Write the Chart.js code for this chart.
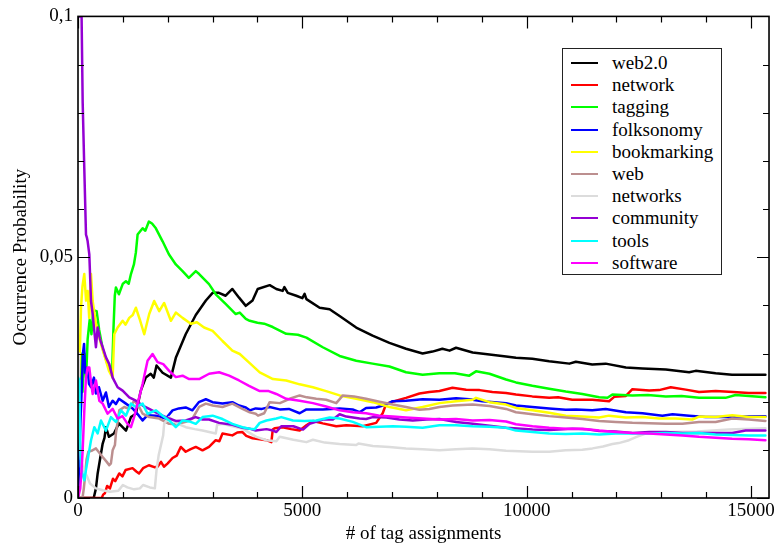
<!DOCTYPE html>
<html>
<head>
<meta charset="utf-8">
<script src="https://cdn.jsdelivr.net/npm/chart.js@4/dist/chart.umd.min.js"></script>
<style>
  html, body { margin: 0; padding: 0; background: #fff; }
  #wrap { position: relative; width: 777px; height: 547px; }
  #legend { position: absolute; left: 562px; top: 48px; width: 158px; height: 225px;
            border: 1px solid #222; background: #fff; box-sizing: content-box;
            font-family: "Liberation Serif", "DejaVu Serif", serif; font-size: 19px; color: #000; }
  .row { position: absolute; left: 0; height: 22px; display: flex; align-items: center; }
  .sample { display: inline-block; width: 27px; height: 2px; margin-left: 8px; }
  .lab { margin-left: 14px; line-height: 22px; white-space: nowrap; }
</style>
</head>
<body>
<div id="wrap">
  <canvas id="c" width="777" height="547"></canvas>
  <div id="legend"></div>
</div>
<script>
// ---- data (x = # of tag assignments, y = occurrence probability) ----
const seriesNames = ['web2.0','network','tagging','folksonomy','bookmarking','web','networks','community','tools','software'];

const web20Pts = [[0,0],[350,0],[400,0.002],[438,0.0051],[490,0.008],[550,0.0113],[590,0.0125],[623,0.0147],[690,0.0127],[800,0.0134],[912,0.0155],[1070,0.014],[1180,0.0168],[1290,0.0175],[1400,0.0223],[1510,0.025],[1620,0.0258],[1690,0.025],[1750,0.0275],[1885,0.026],[2070,0.025],[2180,0.0291],[2400,0.034],[2625,0.038],[2850,0.041],[3000,0.0426],[3140,0.0426],[3290,0.042],[3440,0.0434],[3590,0.0416],[3740,0.0399],[3890,0.041],[4005,0.0434],[4272,0.0442],[4420,0.0434],[4560,0.043],[4600,0.0438],[4675,0.0426],[4865,0.042],[5000,0.0415],[5050,0.0424],[5090,0.0413],[5385,0.0395],[5607,0.0392],[5830,0.0378],[6200,0.0354],[6565,0.0337],[6940,0.0322],[7310,0.031],[7680,0.030],[7900,0.0304],[8120,0.031],[8280,0.0306],[8425,0.0312],[8795,0.0302],[9170,0.0298],[9540,0.0294],[9760,0.0291],[10125,0.0289],[10500,0.0284],[10950,0.0279],[11095,0.0283],[11460,0.0277],[11760,0.0279],[12210,0.0271],[12580,0.0269],[13100,0.0267],[13620,0.0261],[13765,0.0264],[14210,0.0259],[14575,0.0256],[14950,0.0256],[15320,0.0256]];

const networkPts = [[0,0],[530,0],[560,0.0007],[600,0.001],[650,0.0025],[712,0.002],[780,0.004],[830,0.0035],[920,0.0051],[990,0.0045],[1060,0.0058],[1215,0.0062],[1300,0.0055],[1360,0.0051],[1450,0.0062],[1580,0.0068],[1700,0.0064],[1773,0.0065],[1850,0.0075],[1915,0.0065],[2000,0.0072],[2107,0.0083],[2200,0.0088],[2290,0.0106],[2400,0.0096],[2500,0.0101],[2625,0.0106],[2775,0.0099],[2920,0.0106],[3070,0.012],[3150,0.0118],[3220,0.0134],[3440,0.013],[3550,0.0136],[3665,0.0137],[3750,0.0129],[3890,0.0124],[4050,0.0122],[4200,0.012],[4310,0.0116],[4340,0.0142],[4383,0.0145],[4560,0.0147],[4750,0.0143],[4940,0.014],[5090,0.0151],[5235,0.016],[5455,0.0155],[5755,0.0149],[5980,0.0151],[6345,0.0149],[6645,0.0156],[6790,0.0176],[6870,0.0196],[7090,0.0202],[7310,0.0208],[7610,0.0217],[7830,0.022],[8055,0.0222],[8345,0.0229],[8650,0.0225],[8950,0.0224],[9235,0.022],[9540,0.0218],[9760,0.0215],[10125,0.0211],[10500,0.0208],[10700,0.0209],[11015,0.0204],[11460,0.0204],[11835,0.0201],[11950,0.021],[12210,0.0212],[12355,0.0226],[12730,0.0223],[12950,0.0224],[13210,0.023],[13545,0.0225],[13840,0.022],[14210,0.0222],[14600,0.022],[14950,0.0218],[15320,0.0218]];

const taggingPts = [[0,0],[30,0.012],[60,0.03],[100,0.022],[140,0.03],[180,0.025],[215,0.033],[260,0.037],[300,0.034],[340,0.039],[415,0.0388],[470,0.035],[550,0.031],[650,0.028],[760,0.026],[790,0.035],[820,0.042],[845,0.0437],[912,0.0423],[1000,0.0445],[1068,0.045],[1130,0.0445],[1180,0.0465],[1246,0.0485],[1290,0.051],[1328,0.0547],[1440,0.056],[1500,0.0555],[1580,0.0574],[1650,0.057],[1735,0.056],[1885,0.0533],[2025,0.0506],[2180,0.0485],[2330,0.0471],[2470,0.0457],[2625,0.0471],[2700,0.0465],[2920,0.0444],[3070,0.0423],[3290,0.0403],[3515,0.0382],[3605,0.0385],[3740,0.0372],[3827,0.0368],[4000,0.0364],[4150,0.0362],[4340,0.0355],[4640,0.0341],[4900,0.0339],[5090,0.0333],[5455,0.0313],[5830,0.0295],[6200,0.0285],[6565,0.0279],[6940,0.0273],[7310,0.0261],[7680,0.0256],[8055,0.0259],[8400,0.0259],[8720,0.0254],[8870,0.0263],[9170,0.0258],[9540,0.0246],[9760,0.024],[10125,0.0233],[10500,0.0227],[10870,0.0221],[11240,0.0216],[11615,0.0209],[11800,0.0208],[11910,0.0215],[12355,0.0213],[12700,0.0214],[13100,0.0211],[13450,0.0212],[13840,0.0208],[14430,0.0208],[14655,0.0214],[14950,0.0212],[15320,0.0209]];

const folksonomyPts = [[0,0],[40,0.012],[80,0.022],[110,0.03],[135,0.032],[160,0.026],[178,0.027],[215,0.027],[245,0.0237],[290,0.023],[356,0.025],[400,0.0217],[467,0.023],[550,0.0202],[623,0.0219],[690,0.0189],[772,0.0202],[845,0.0195],[912,0.0206],[1068,0.0196],[1217,0.0186],[1357,0.0171],[1440,0.0161],[1550,0.0172],[1735,0.0171],[1958,0.0165],[2107,0.0182],[2247,0.0186],[2400,0.0188],[2550,0.0182],[2692,0.0199],[2850,0.0205],[3000,0.0199],[3220,0.0196],[3440,0.0199],[3590,0.0192],[3740,0.0188],[3827,0.0182],[3960,0.0186],[4100,0.0185],[4272,0.0189],[4495,0.0184],[4700,0.0185],[4940,0.0176],[5090,0.0184],[5455,0.0184],[5830,0.0186],[6120,0.0184],[6275,0.0178],[6420,0.0187],[6645,0.0188],[6870,0.0194],[7010,0.0201],[7310,0.0202],[7680,0.0205],[8055,0.0204],[8425,0.0207],[8720,0.0205],[9010,0.0201],[9540,0.0197],[9760,0.0192],[10125,0.0189],[10500,0.0186],[10870,0.0183],[11100,0.0184],[11460,0.0182],[11760,0.0185],[12210,0.0178],[12580,0.0176],[13025,0.0171],[13250,0.0174],[13620,0.0171],[13990,0.0168],[14430,0.0168],[14800,0.0169],[15320,0.017]];

const bookmarkingPts = [[0,0.02],[40,0.03],[67,0.0395],[100,0.044],[140,0.0465],[180,0.041],[215,0.043],[250,0.0374],[290,0.0465],[327,0.0409],[400,0.0362],[512,0.032],[623,0.0285],[690,0.0264],[772,0.025],[808,0.034],[883,0.0354],[995,0.0368],[1060,0.036],[1142,0.0374],[1220,0.038],[1290,0.0395],[1380,0.037],[1476,0.034],[1587,0.0382],[1698,0.0409],[1810,0.0388],[1920,0.0405],[2070,0.0368],[2180,0.0385],[2330,0.0374],[2515,0.0362],[2650,0.0365],[2810,0.0354],[3000,0.0347],[3220,0.0326],[3440,0.0306],[3605,0.0299],[3827,0.028],[4050,0.0261],[4345,0.0247],[4640,0.0244],[4940,0.0236],[5235,0.023],[5530,0.0222],[5830,0.0213],[6200,0.0206],[6570,0.0199],[6940,0.0189],[7310,0.0182],[7680,0.0189],[8055,0.0197],[8425,0.0201],[8795,0.0204],[8870,0.0208],[9170,0.0199],[9540,0.0194],[9760,0.0187],[10130,0.0182],[10500,0.0177],[10870,0.0171],[11240,0.0169],[11615,0.0167],[11835,0.0171],[12210,0.0167],[12580,0.0168],[12950,0.0165],[13320,0.0165],[13690,0.0163],[13840,0.0169],[14210,0.0168],[14580,0.0172],[14950,0.0168],[15320,0.0168]];

const webPts = [[0,0],[100,0],[130,0.002],[156,0.0044],[190,0.008],[230,0.0096],[300,0.0098],[400,0.0103],[550,0.0085],[640,0.0075],[697,0.0068],[734,0.0072],[772,0.0099],[823,0.011],[845,0.0134],[920,0.0182],[1030,0.0189],[1140,0.0185],[1253,0.0202],[1365,0.0189],[1440,0.0175],[1587,0.0168],[1810,0.0165],[2032,0.0154],[2180,0.0153],[2403,0.0158],[2550,0.0165],[2700,0.0189],[2850,0.0196],[3000,0.0192],[3220,0.0189],[3440,0.0196],[3665,0.0185],[3827,0.0178],[3960,0.0175],[4012,0.0171],[4150,0.0176],[4272,0.0199],[4500,0.0197],[4717,0.0206],[4940,0.0213],[5100,0.0209],[5310,0.0206],[5530,0.0204],[5755,0.0197],[5903,0.0213],[6150,0.0211],[6420,0.0206],[6720,0.02],[7015,0.0194],[7310,0.0189],[7610,0.0183],[7830,0.0185],[8055,0.0189],[8350,0.0192],[8795,0.0194],[9170,0.0191],[9540,0.0185],[9760,0.0178],[10130,0.0174],[10500,0.017],[10870,0.0167],[11240,0.0164],[11615,0.016],[11985,0.0158],[12355,0.0156],[12730,0.0155],[13100,0.0154],[13470,0.0154],[13840,0.0158],[14210,0.0158],[14580,0.0165],[14950,0.0163],[15320,0.016]];

const networksPts = [[0,0.03],[20,0.02],[40,0.012],[67,0.008],[120,0.006],[200,0.0045],[267,0.003],[400,0.002],[550,0.0016],[712,0.0013],[900,0.0015],[1000,0.0027],[1100,0.0022],[1250,0.0018],[1380,0.002],[1450,0.0027],[1600,0.0022],[1713,0.002],[1750,0.0058],[1800,0.009],[1898,0.013],[1920,0.0154],[2032,0.0168],[2200,0.0155],[2403,0.0147],[2600,0.0143],[2775,0.014],[3070,0.0134],[3100,0.0152],[3220,0.0154],[3440,0.0149],[3665,0.0144],[3975,0.0127],[4200,0.012],[4420,0.0118],[4495,0.0127],[4800,0.0121],[5090,0.0116],[5235,0.0121],[5500,0.0115],[5830,0.0112],[6200,0.011],[6250,0.0113],[6570,0.0108],[6940,0.0106],[7310,0.0103],[7680,0.0101],[8055,0.0099],[8425,0.0101],[8795,0.0103],[9170,0.0101],[9540,0.0098],[10130,0.0096],[10500,0.0096],[10870,0.0099],[11240,0.01],[11465,0.0103],[11700,0.0107],[11910,0.0112],[12050,0.0114],[12280,0.012],[12450,0.0127],[12650,0.0134],[12800,0.0136],[13200,0.0137],[13800,0.0138],[14500,0.0142],[15320,0.0145]];

const communityPts = [[0,0.1],[80,0.1],[104,0.0822],[140,0.0685],[178,0.0547],[200,0.054],[215,0.0533],[252,0.0506],[290,0.0409],[330,0.038],[363,0.0347],[400,0.0313],[438,0.0354],[490,0.033],[550,0.0313],[623,0.0292],[697,0.0278],[772,0.025],[883,0.023],[995,0.0223],[1142,0.0209],[1290,0.0202],[1440,0.0192],[1587,0.0185],[1735,0.0178],[1885,0.0171],[2032,0.0165],[2180,0.016],[2400,0.0161],[2625,0.0168],[2775,0.0163],[2920,0.0163],[3145,0.0156],[3440,0.0152],[3665,0.0146],[3827,0.0144],[3960,0.014],[4200,0.0143],[4345,0.014],[4420,0.0137],[4530,0.0149],[4800,0.0149],[5015,0.0142],[5160,0.0154],[5460,0.0163],[5680,0.0163],[5830,0.0174],[5980,0.0169],[6275,0.0165],[6420,0.0164],[6570,0.0168],[6870,0.0167],[7165,0.0163],[7460,0.0161],[7760,0.0163],[8055,0.0164],[8425,0.0158],[8795,0.0154],[9170,0.015],[9540,0.0146],[10130,0.0142],[10500,0.0141],[11020,0.0144],[11300,0.0143],[11615,0.0139],[11985,0.0138],[12355,0.0135],[12730,0.0137],[13100,0.0137],[13470,0.0135],[13840,0.0135],[14580,0.0135],[14880,0.014],[15320,0.014]];

const toolsPts = [[0,0.025],[30,0.0244],[50,0.012],[67,0.0065],[100,0.005],[140,0.0037],[180,0.006],[215,0.0079],[290,0.012],[363,0.0147],[438,0.0134],[512,0.0161],[623,0.014],[734,0.0168],[845,0.0158],[957,0.0182],[1068,0.0171],[1180,0.0196],[1290,0.0189],[1440,0.0196],[1550,0.0175],[1735,0.0182],[1885,0.0171],[2032,0.0161],[2180,0.0147],[2330,0.0161],[2480,0.0159],[2625,0.0154],[2775,0.0168],[3000,0.0171],[3220,0.0164],[3440,0.0154],[3665,0.0147],[3827,0.0144],[3940,0.0143],[4050,0.0156],[4200,0.0161],[4420,0.0165],[4530,0.0168],[4790,0.0161],[5050,0.016],[5310,0.0161],[5607,0.0167],[5830,0.0165],[6125,0.0158],[6420,0.0147],[6720,0.0148],[7015,0.0149],[7310,0.0148],[7680,0.0146],[8055,0.0151],[8425,0.0151],[8795,0.0149],[9170,0.0148],[9540,0.0146],[9760,0.014],[10130,0.0137],[10500,0.0134],[10870,0.0133],[11240,0.0134],[11615,0.0132],[11985,0.0134],[12355,0.0134],[12730,0.0134],[13100,0.0135],[13470,0.0134],[13840,0.0135],[14210,0.0132],[14580,0.0131],[14950,0.013],[15320,0.013]];

const softwarePts = [[0,0],[50,0.002],[80,0.006],[104,0.0099],[140,0.018],[178,0.025],[215,0.0271],[252,0.0271],[290,0.024],[327,0.0216],[400,0.0244],[475,0.0202],[550,0.0196],[660,0.0175],[772,0.0185],[883,0.0165],[990,0.017],[1105,0.0154],[1180,0.0147],[1250,0.0168],[1328,0.0196],[1440,0.0237],[1550,0.0285],[1661,0.0299],[1773,0.0282],[1900,0.0278],[2032,0.0264],[2180,0.0251],[2330,0.0254],[2477,0.0247],[2700,0.0247],[2922,0.0258],[3145,0.0261],[3367,0.0254],[3590,0.0244],[3812,0.0233],[4050,0.0222],[4250,0.0222],[4420,0.0216],[4640,0.0206],[4940,0.0202],[5235,0.0197],[5530,0.019],[5830,0.0182],[6125,0.0178],[6420,0.0176],[6720,0.0171],[7015,0.0169],[7310,0.0167],[7680,0.0165],[8055,0.0163],[8425,0.0164],[8795,0.0161],[9170,0.0162],[9540,0.0159],[9760,0.0153],[10130,0.0149],[10500,0.0146],[10870,0.0144],[11240,0.0144],[11615,0.014],[11985,0.0137],[12355,0.0135],[12730,0.0134],[13100,0.0132],[13470,0.013],[13840,0.0127],[14210,0.0125],[14580,0.0123],[14950,0.0122],[15320,0.012]];

const seriesPts = [web20Pts, networkPts, taggingPts, folksonomyPts, bookmarkingPts, webPts, networksPts, communityPts, toolsPts, softwarePts];

const xTickValues = [0, 5000, 10000, 15000];
const yTickValues = [0, 0.05, 0.1];

// ---- styles ----
const seriesColors = ['#000000','#ff0000','#00ff00','#0000ff','#ffff00','#bc8f8f','#dcdcdc','#9400d3','#00ffff','#ff00ff'];
const FONT = '"Liberation Serif", "DejaVu Serif", serif';

const datasets = seriesNames.map((name, i) => ({
  label: name,
  data: seriesPts[i].map(p => ({x: p[0], y: p[1]})),
  borderColor: seriesColors[i],
  backgroundColor: seriesColors[i],
  borderWidth: 2.5,
  pointRadius: 0,
  tension: 0,
  fill: false,
  order: seriesNames.length - 1 - i
}));

const frameTicks = {
  id: 'frameTicks',
  afterDraw(chart) {
    const {ctx, chartArea: a, scales} = chart;
    const xs = scales.x, ys = scales.y;
    ctx.save();
    ctx.strokeStyle = '#000';
    ctx.lineWidth = 1.6;
    ctx.strokeRect(a.left, a.top, a.right - a.left, a.bottom - a.top);
    ctx.lineWidth = 1.2;
    ctx.beginPath();
    for (let v = 0; v <= xs.max; v += 1000) {
      const p = Math.round(xs.getPixelForValue(v)) + 0.5;
      const len = xTickValues.includes(v) ? 12 : 6;
      ctx.moveTo(p, a.bottom); ctx.lineTo(p, a.bottom - len);
      ctx.moveTo(p, a.top); ctx.lineTo(p, a.top + len);
    }
    for (let k = 0; k <= 10; k++) {
      const v = k / 100;
      const p = Math.round(ys.getPixelForValue(v)) + 0.5;
      const len = (k % 5 === 0) ? 12 : 6;
      ctx.moveTo(a.left, p); ctx.lineTo(a.left + len, p);
      ctx.moveTo(a.right, p); ctx.lineTo(a.right - len, p);
    }
    ctx.stroke();
    ctx.restore();
  }
};

new Chart(document.getElementById('c'), {
  type: 'line',
  data: { datasets },
  plugins: [frameTicks],
  options: {
    responsive: false,
    animation: false,
    devicePixelRatio: 1,
    layout: { padding: { top: 14, right: 7, left: 0, bottom: 0 } },
    plugins: { legend: { display: false }, tooltip: { enabled: false } },
    elements: { line: { borderCapStyle: 'round', borderJoinStyle: 'round' } },
    scales: {
      x: {
        type: 'linear', min: 0, max: 15400,
        afterFit(s) { s.height = 49; },
        afterBuildTicks(s) { s.ticks = xTickValues.map(v => ({value: v})); },
        grid: { display: false, drawTicks: false },
        border: { display: false },
        ticks: { padding: 2, color: '#000', font: { family: FONT, size: 19 }, maxRotation: 0,
                 callback: v => String(v) },
        title: { display: true, text: '# of tag assignments', color: '#000',
                 font: { family: FONT, size: 19 }, padding: { top: 0, bottom: 2 } }
      },
      y: {
        type: 'linear', min: 0, max: 0.1,
        afterFit(s) { s.width = 78; },
        afterBuildTicks(s) { s.ticks = yTickValues.map(v => ({value: v})); },
        grid: { display: false, drawTicks: false },
        border: { display: false },
        ticks: { padding: 5, color: '#000', font: { family: FONT, size: 19 },
                 callback: v => v === 0 ? '0' : String(+(+v).toFixed(2)).replace('.', ',') },
        title: { display: true, text: 'Occurrence Probability', color: '#000',
                 font: { family: FONT, size: 19 }, padding: { top: 10, bottom: 0 } }
      }
    }
  }
});

// HTML legend built from the same names/colours
const leg = document.getElementById('legend');
seriesNames.forEach((name, i) => {
  const row = document.createElement('div');
  row.className = 'row';
  row.style.top = (3 + i * 22.2) + 'px';
  const s = document.createElement('span');
  s.className = 'sample';
  s.style.background = seriesColors[i];
  const t = document.createElement('span');
  t.className = 'lab';
  t.textContent = name;
  row.appendChild(s); row.appendChild(t);
  leg.appendChild(row);
});
</script>
</body>
</html>
